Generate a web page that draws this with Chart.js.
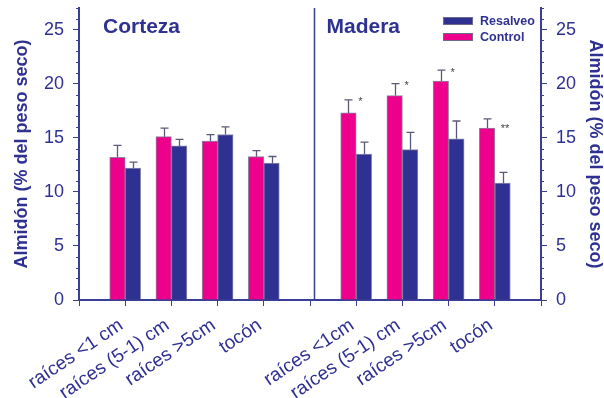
<!DOCTYPE html>
<html>
<head>
<meta charset="utf-8">
<script src="https://cdn.jsdelivr.net/npm/chart.js@4.4.1/dist/chart.umd.min.js"></script>
<style>
  html, body { margin: 0; padding: 0; background: #fff; }
  #wrap { width: 604px; height: 398px; }
</style>
</head>
<body>
<div id="wrap"><canvas id="starchChart" width="604" height="398"></canvas></div>
<script>
// categories (empty slots are the gaps at both ends and between panels)
const categories = ['', 'raíces <1 cm', 'raíces (5-1) cm', 'raíces >5cm', 'tocón', '',
                    'raíces <1cm', 'raíces (5-1) cm', 'raíces >5cm', 'tocón', ''];
const controlValues   = [null, 13.2, 15.1, 14.7, 13.25, null, 17.3, 18.9, 20.25, 15.9, null];
const controlErrors   = [null, 1.1, 0.8, 0.6, 0.56, null, 1.2, 1.1, 1.0, 0.85, null];
const resalveoValues  = [null, 12.2, 14.25, 15.3, 12.65, null, 13.5, 13.9, 14.9, 10.8, null];
const resalveoErrors  = [null, 0.55, 0.6, 0.7, 0.62, null, 1.1, 1.6, 1.65, 1.0, null];
// significance marks: label and the value they sit at
const sigMarks  = ['', '', '', '', '', '', '*', '*', '*', '**', ''];
const sigValues = [null, null, null, null, null, null, 18.6, 20.1, 21.3, 16.1, null];
const panelTitles = ['Corteza', 'Madera'];
const yTicks = [0, 5, 10, 15, 20, 25];

const NAVY = '#2e3192';
const PINK = '#ec008c';
const AXIS = '#3a3e94';
const FONT = "'Liberation Sans', Arial, sans-serif";

document.addEventListener('DOMContentLoaded', function() {
    const ctx = document.getElementById('starchChart').getContext('2d');

    // extras drawn on top: minor ticks, divider, panel titles, legend, error bars, asterisks
    const extrasPlugin = {
        id: 'extras',
        afterDraw(chart) {
            const c = chart.ctx;
            const x = chart.scales.x;
            const y = chart.scales.y;
            const area = chart.chartArea;
            c.save();

            // minor ticks on both y axes
            c.strokeStyle = AXIS;
            c.lineWidth = 1;
            for (let v = 1; v <= 27; v++) {
                if (v % 5 === 0) continue;
                const py = Math.round(y.getPixelForValue(v)) + 0.5;
                c.beginPath();
                c.moveTo(area.left - 3, py); c.lineTo(area.left, py);
                c.moveTo(area.right, py); c.lineTo(area.right + 3, py);
                c.stroke();
            }

            // divider between panels
            const dx = Math.round(x.getPixelForValue(5.08)) + 0.5;
            c.strokeStyle = AXIS;
            c.lineWidth = 1.5;
            c.beginPath();
            c.moveTo(dx, area.top);
            c.lineTo(dx, area.bottom);
            c.stroke();

            // panel titles
            c.fillStyle = NAVY;
            c.font = 'bold 21px ' + FONT;
            c.textBaseline = 'middle';
            c.textAlign = 'left';
            c.fillText(panelTitles[0], area.left + 24, area.top + 19);
            c.fillText(panelTitles[1], dx + 12, area.top + 19);

            // legend (reversed order, inside plot)
            const ds = chart.data.datasets.slice().reverse();
            c.font = 'bold 12.5px ' + FONT;
            ds.forEach(function(d, i) {
                const ly = area.top + 9 + i * 16;
                c.fillStyle = d.backgroundColor;
                c.fillRect(443, ly, 30, 8);
                c.strokeStyle = '#6a6a8a';
                c.lineWidth = 1;
                c.strokeRect(443.5, ly + 0.5, 29, 7);
                c.fillStyle = NAVY;
                c.fillText(d.label, 480, ly + 5);
            });

            // error bars
            const errs = [controlErrors, resalveoErrors];
            chart.data.datasets.forEach(function(d, di) {
                const meta = chart.getDatasetMeta(di);
                meta.data.forEach(function(bar, i) {
                    const e = errs[di][i];
                    if (e == null || d.data[i] == null) return;
                    const top = y.getPixelForValue(d.data[i] + e);
                    const bx = Math.round(bar.x) + 0.5;
                    c.strokeStyle = '#5a5a78';
                    c.lineWidth = 1.3;
                    c.beginPath();
                    c.moveTo(bx, bar.y);
                    c.lineTo(bx, top);
                    c.moveTo(bx - 4, top);
                    c.lineTo(bx + 4, top);
                    c.stroke();
                });
            });

            // significance asterisks
            c.fillStyle = '#444';
            c.font = '11px ' + FONT;
            c.textAlign = 'left';
            sigMarks.forEach(function(m, i) {
                if (!m) return;
                const px = x.getPixelForValue(i) + (m.length > 1 ? 6 : 2);
                c.fillText(m, px, y.getPixelForValue(sigValues[i]) + 3);
            });

            c.restore();
        }
    };

    const axisTitle = {
        display: true,
        text: 'Almidón (% del peso seco)',
        color: NAVY,
        font: { family: FONT, size: 18, weight: 'bold', lineHeight: 1 }
    };

    const yCommon = {
        min: 0,
        max: 27,
        ticks: {
            stepSize: 5,
            includeBounds: false,
            padding: 9,
            color: NAVY,
            font: { family: FONT, size: 18 }
        },
        grid: { drawOnChartArea: false, tickLength: 6, tickColor: AXIS, tickWidth: 1 },
        border: { color: AXIS, width: 2 }
    };

    const chart = new Chart(ctx, {
        type: 'bar',
        data: {
            labels: categories,
            datasets: [{
                label: 'Control',
                data: controlValues,
                backgroundColor: PINK,
                borderColor: 'rgba(90,80,120,0.7)',
                borderWidth: 1,
                barThickness: 15.5
            }, {
                label: 'Resalveo',
                data: resalveoValues,
                backgroundColor: NAVY,
                borderColor: 'rgba(110,110,150,0.8)',
                borderWidth: 1,
                barThickness: 15.5
            }]
        },
        options: {
            responsive: false,
            animation: false,
            layout: { padding: { top: 8, left: 0, right: 0, bottom: 0 } },
            plugins: {
                legend: { display: false },
                tooltip: { enabled: false }
            },
            scales: {
                x: {
                    offset: false,
                    grid: { offset: false, drawOnChartArea: false, tickLength: 6, tickColor: AXIS, tickWidth: 1 },
                    border: { color: AXIS, width: 2 },
                    ticks: {
                        autoSkip: false,
                        maxRotation: 34,
                        minRotation: 34,
                        padding: 8,
                        labelOffset: -4,
                        color: NAVY,
                        font: { family: FONT, size: 19 }
                    },
                    afterFit: function(scale) {
                        scale.height = 98;
                        scale.paddingLeft = 0;
                        scale.paddingRight = 0;
                    }
                },
                y: Object.assign({}, yCommon, {
                    position: 'left',
                    title: Object.assign({}, axisTitle, { padding: { top: 13, bottom: 0 } }),
                    afterFit: function(scale) {
                        scale.width = 79;
                        scale.paddingTop = 0;
                        scale.paddingBottom = 0;
                    },
                    afterBuildTicks: function(scale) { scale.ticks = yTicks.map(v => ({ value: v })); }
                }),
                y2: Object.assign({}, yCommon, {
                    position: 'right',
                    title: Object.assign({}, axisTitle, { padding: { top: 0, bottom: 0 } }),
                    afterFit: function(scale) {
                        scale.width = 63;
                        scale.paddingTop = 0;
                        scale.paddingBottom = 0;
                    },
                    afterBuildTicks: function(scale) { scale.ticks = yTicks.map(v => ({ value: v })); }
                })
            }
        },
        plugins: [extrasPlugin]
    });
});
</script>
</body>
</html>
